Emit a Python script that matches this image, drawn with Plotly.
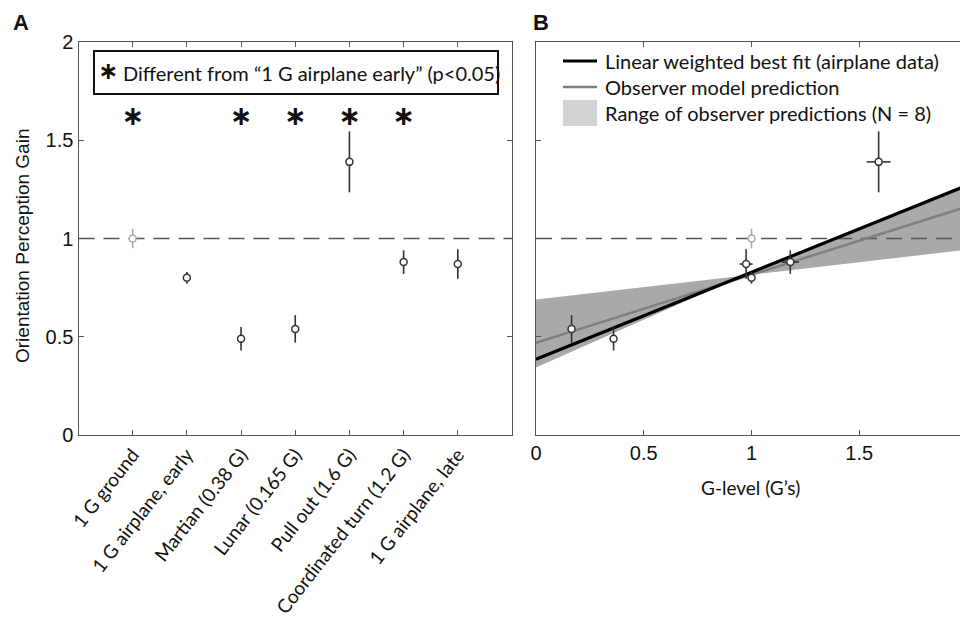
import plotly.graph_objects as go

# ---------------- data ----------------
categories = ["1 G ground", "1 G airplane, early", "Martian (0.38 G)", "Lunar (0.165 G)",
              "Pull out (1.6 G)", "Coordinated turn (1.2 G)", "1 G airplane, late"]
cat_pos = [1, 2, 3, 4, 5, 6, 7]
gain = [1.00, 0.80, 0.49, 0.54, 1.39, 0.88, 0.87]
gain_err = [0.05, 0.03, 0.06, 0.07, 0.155, 0.06, 0.075]
signif_pos = [1, 3, 4, 5, 6]
star_y = [1.61, 1.61, 1.61, 1.61, 1.61]

g_level = [1.0, 1.0, 0.36, 0.165, 1.59, 1.18, 0.975]
g_level_err = [0.0, 0.0, 0.0, 0.0, 0.055, 0.04, 0.03]

fit_x = [0, 2]
fit_y = [0.386, 1.27]
model_x = [0, 2]
model_y = [0.469, 1.162]
range_x = [0, 0.96, 2]
range_lo = [0.344, 0.81, 0.943]
range_hi = [0.69, 0.81, 1.28]

y_ticks = [0, 0.5, 1, 1.5, 2]
y_ticktext = ["0", "0.5", "1", "1.5", "2"]
x2_ticks = [0, 0.5, 1, 1.5, 2]
x2_ticktext = ["0", "0.5", "1", "1.5", "2"]

# ---------------- helpers (page pixel -> paper, page body has 8px margin) ----------------
OFF = 8
W, H = 968 - OFF, 624 - OFF
def px(x): return (x - OFF) / W
def py(y): return 1 - (y - OFF) / H

DARK = "#333333"
LIGHT = "#aaaaaa"
AXC = "#555555"
CAL = "Lato, 'Open Sans', sans-serif"
ARI = "'Liberation Sans', Arial, sans-serif"

fig = go.Figure()

# ---------------- panel A ----------------
fig.add_trace(go.Scatter(x=[0, 8], y=[1, 1], mode="lines",
                         line=dict(color="#555555", width=1.5, dash="16px,9px"),
                         xaxis="x", yaxis="y", hoverinfo="skip"))
fig.add_trace(go.Scatter(x=cat_pos[1:], y=gain[1:], mode="markers",
                         error_y=dict(type="data", array=gain_err[1:], color=DARK, thickness=1.6, width=0),
                         marker=dict(symbol="circle", size=7, color="white", line=dict(color=DARK, width=1.5)),
                         xaxis="x", yaxis="y"))
fig.add_trace(go.Scatter(x=cat_pos[:1], y=gain[:1], mode="markers",
                         error_y=dict(type="data", array=gain_err[:1], color=LIGHT, thickness=1.6, width=0),
                         marker=dict(symbol="circle", size=7, color="white", line=dict(color=LIGHT, width=1.5)),
                         xaxis="x", yaxis="y"))
fig.add_trace(go.Scatter(x=signif_pos, y=star_y, mode="text", text=["∗"] * len(signif_pos),
                         textposition="middle center",
                         textfont=dict(family="'DejaVu Sans'", size=27, color="#111111", weight="bold"),
                         xaxis="x", yaxis="y"))

# ---------------- panel B ----------------
fig.add_trace(go.Scatter(x=range_x + range_x[::-1], y=range_hi + range_lo[::-1], mode="lines",
                         fill="toself", fillcolor="#a9a9a9", line=dict(width=0),
                         xaxis="x2", yaxis="y2", hoverinfo="skip"))
fig.add_trace(go.Scatter(x=[0, 2], y=[1, 1], mode="lines",
                         line=dict(color="#555555", width=1.5, dash="16px,9px"),
                         xaxis="x2", yaxis="y2", hoverinfo="skip"))
fig.add_trace(go.Scatter(x=model_x, y=model_y, mode="lines",
                         line=dict(color="#7f7f7f", width=2.5), xaxis="x2", yaxis="y2"))
fig.add_trace(go.Scatter(x=fit_x, y=fit_y, mode="lines",
                         line=dict(color="#000000", width=3.2), xaxis="x2", yaxis="y2"))
fig.add_trace(go.Scatter(x=g_level[1:], y=gain[1:], mode="markers",
                         error_y=dict(type="data", array=gain_err[1:], color=DARK, thickness=1.6, width=0),
                         error_x=dict(type="data", array=g_level_err[1:], color=DARK, thickness=1.6, width=0),
                         marker=dict(symbol="circle", size=7, color="white", line=dict(color=DARK, width=1.5)),
                         xaxis="x2", yaxis="y2"))
fig.add_trace(go.Scatter(x=g_level[:1], y=gain[:1], mode="markers",
                         error_y=dict(type="data", array=gain_err[:1], color=LIGHT, thickness=1.6, width=0),
                         marker=dict(symbol="circle", size=7, color="white", line=dict(color=LIGHT, width=1.5)),
                         xaxis="x2", yaxis="y2"))

axis_common = dict(showgrid=False, zeroline=False, showline=True, linecolor=AXC, linewidth=1.2,
                   ticks="inside", ticklen=5, tickcolor=AXC, mirror="ticks", automargin=False)

fig.update_layout(
    width=W, height=H, margin=dict(l=0, r=0, t=0, b=0, autoexpand=False),
    paper_bgcolor="white", plot_bgcolor="white", showlegend=False,
    xaxis=dict(domain=[px(78.5), px(512)], range=[0, 8], tickmode="array", tickvals=cat_pos,
               ticktext=categories, tickangle=-52, anchor="y",
               tickfont=dict(family=CAL, size=19, color="#111111"), **axis_common),
    yaxis=dict(domain=[py(435), py(42)], range=[0, 2], tickmode="array", tickvals=y_ticks,
               ticktext=y_ticktext, anchor="x",
               tickfont=dict(family=ARI, size=20, color="#111111"), **axis_common),
    xaxis2=dict(domain=[px(536), px(967)], range=[0, 2], tickmode="array", tickvals=x2_ticks,
                ticktext=x2_ticktext, anchor="y2",
                tickfont=dict(family=ARI, size=20, color="#111111"), **axis_common),
    yaxis2=dict(domain=[py(435), py(42)], range=[0, 2], tickmode="array", tickvals=y_ticks,
                showticklabels=False, anchor="x2", **axis_common),
)

shapes = []
annotations = []
# axis titles
annotations.append(dict(x=px(22), y=py(246), xref="paper", yref="paper", text="Orientation Perception Gain",
                        showarrow=False, textangle=-90, xanchor="center", yanchor="middle",
                        font=dict(family=ARI, size=19, color="#111111")))
annotations.append(dict(x=px(750), y=py(487), xref="paper", yref="paper", text="G-level (G’s)",
                        showarrow=False, xanchor="center", yanchor="middle",
                        font=dict(family=CAL, size=19, color="#111111")))
# panel letters
annotations.append(dict(x=px(11), y=py(23), xref="paper", yref="paper", text="<b>A</b>", showarrow=False,
                        xanchor="left", yanchor="middle", font=dict(family=ARI, size=22, color="#111111")))
annotations.append(dict(x=px(531), y=py(23), xref="paper", yref="paper", text="<b>B</b>", showarrow=False,
                        xanchor="left", yanchor="middle", font=dict(family=ARI, size=22, color="#111111")))
# legend A
shapes.append(dict(type="rect", xref="paper", yref="paper", x0=px(94), x1=px(498), y0=py(94), y1=py(51),
                   line=dict(color="#111111", width=2), fillcolor="white"))
annotations.append(dict(x=px(96), y=py(71), xref="paper", yref="paper", text="<b>∗</b>", showarrow=False,
                        xanchor="left", yanchor="middle",
                        font=dict(family="'DejaVu Sans'", size=24, color="#111111")))
annotations.append(dict(x=px(121), y=py(73), xref="paper", yref="paper",
                        text="Different from “1 G airplane early” (p<0.05)", showarrow=False,
                        xanchor="left", yanchor="middle", font=dict(family=CAL, size=20, color="#111111")))
# legend B
shapes.append(dict(type="line", xref="paper", yref="paper", x0=px(563), x1=px(597), y0=py(61), y1=py(61),
                   line=dict(color="#000000", width=3)))
shapes.append(dict(type="line", xref="paper", yref="paper", x0=px(563), x1=px(597), y0=py(87), y1=py(87),
                   line=dict(color="#7f7f7f", width=2.5)))
shapes.append(dict(type="rect", xref="paper", yref="paper", x0=px(563), x1=px(597), y0=py(126), y1=py(100),
                   line=dict(width=0), fillcolor="#d3d3d3"))
for yy, t in [(61, "Linear weighted best fit (airplane data)"), (87, "Observer model prediction"),
              (113, "Range of observer predictions (N = 8)")]:
    annotations.append(dict(x=px(603), y=py(yy), xref="paper", yref="paper", text=t, showarrow=False,
                            xanchor="left", yanchor="middle", font=dict(family=CAL, size=20, color="#111111")))

fig.update_layout(shapes=shapes, annotations=annotations)
fig.write_html("out.html")
